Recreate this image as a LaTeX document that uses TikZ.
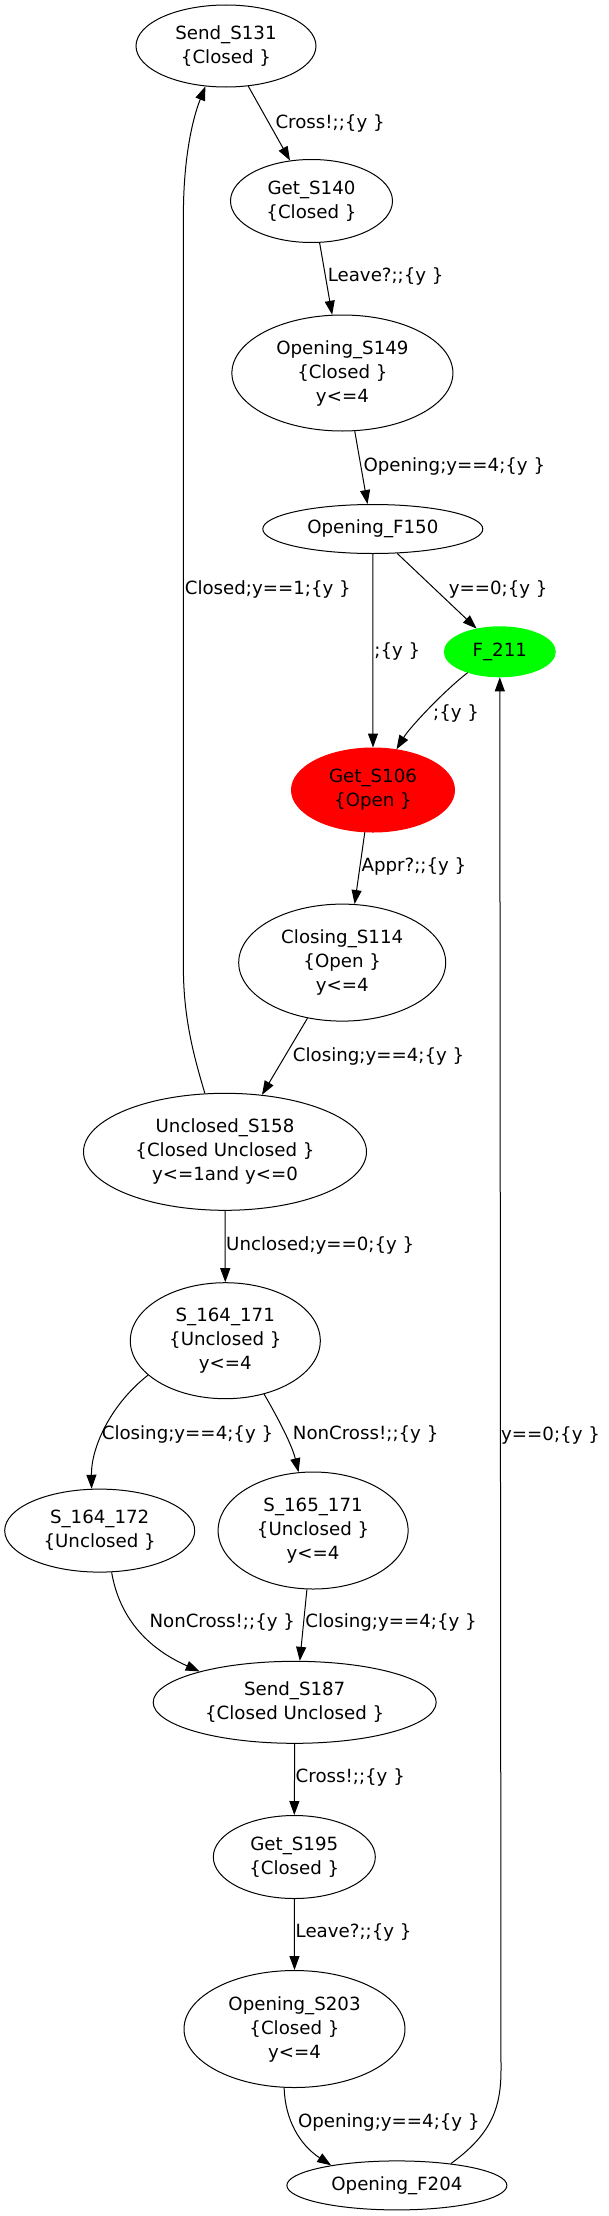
\documentclass[tikz,border=0pt]{standalone}
\usepackage{fontspec}
\setmainfont{DejaVu Sans}
\usetikzlibrary{shapes.geometric,arrows.meta}
\begin{document}
\begin{tikzpicture}[x=1pt,y=-1pt,
  st/.style={ellipse,draw,line width=1pt,inner sep=0pt,align=center,font=\fontsize{18.2}{24}\selectfont},
  el/.style={anchor=west,inner sep=0pt,font=\fontsize{18.2}{24}\selectfont},
  tr/.style={line width=1pt,-{Triangle[length=14pt,width=10pt]}},
]
\useasboundingbox (0,0) rectangle (608,2216);
% nodes
\node[st,minimum width=180pt,minimum height=82pt] (s131) at (226,46) {Send\_S131\\\{Closed \}};
\node[st,minimum width=162pt,minimum height=83pt] (s140) at (311.5,201) {Get\_S140\\\{Closed \}};
\node[st,minimum width=221pt,minimum height=116pt] (s149) at (342.4,373) {Opening\_S149\\\{Closed \}\\y<=4};
\node[st,minimum width=220pt,minimum height=49pt] (f150) at (372.8,529) {Opening\_F150};
\node[st,draw=green,fill=green,minimum width=111pt,minimum height=50pt] (f211) at (499.8,651.8) {F\_211};
\node[st,draw=red,fill=red,minimum width=163pt,minimum height=84pt] (s106) at (373,790) {Get\_S106\\\{Open \}};
\node[st,minimum width=207pt,minimum height=117pt] (s114) at (342.2,962.6) {Closing\_S114\\\{Open \}\\y<=4};
\node[st,minimum width=283pt,minimum height=117pt] (s158) at (225,1151.8) {Unclosed\_S158\\\{Closed Unclosed \}\\y<=1and y<=0};
\node[st,minimum width=190pt,minimum height=116pt] (s171) at (225.3,1340.7) {S\_164\_171\\\{Unclosed \}\\y<=4};
\node[st,minimum width=190pt,minimum height=83pt] (s172) at (99.7,1530.6) {S\_164\_172\\\{Unclosed \}};
\node[st,minimum width=190pt,minimum height=117pt] (s165) at (313.1,1530.5) {S\_165\_171\\\{Unclosed \}\\y<=4};
\node[st,minimum width=283pt,minimum height=82pt] (s187) at (294.7,1702.3) {Send\_S187\\\{Closed Unclosed \}};
\node[st,minimum width=162pt,minimum height=83pt] (s195) at (294.3,1857) {Get\_S195\\\{Closed \}};
\node[st,minimum width=221pt,minimum height=117pt] (s203) at (294.5,2029) {Opening\_S203\\\{Closed \}\\y<=4};
\node[st,minimum width=220pt,minimum height=49pt] (f204) at (396.9,2185.4) {Opening\_F204};
% edges
\draw[tr] (s131.299) -- (s140.118);
\draw[tr] (s140.281.3) -- (s149.100.6);
\draw[tr] (s149.282) -- (f150.102.9);
\draw[tr] (f150.south) -- (s106.north);
\draw[tr] (f150.315.6) -- (f211.135.4);
\draw[tr] (f211.213) .. controls (445,690) and (410,727) .. (s106.60);
\draw[tr] (s106.259.6) -- (s114.78.9);
\draw[tr] (s114.238.2) -- (s158.57.7);
\draw[tr] (s158.109) .. controls (195,1060) and (183.4,1020) .. (183.4,968) -- (183.4,215) .. controls (183.4,160) and (192,120) .. (s131.243);
\draw[tr] (s158.south) -- (s171.north);
\draw[tr] (s171.204.8) .. controls (110,1405) and (91.1,1448) .. (s172.101.7);
\draw[tr] (s171.306.4) .. controls (278,1418) and (292,1445) .. (s165.104);
\draw[tr] (s172.286.1) .. controls (118,1610) and (140,1645) .. (s187.162.1);
\draw[tr] (s165.264.1) -- (s187.83.8);
\draw[tr] (s187.south) -- (s195.north);
\draw[tr] (s195.south) -- (s203.north);
\draw[tr] (s203.260.8) .. controls (285,2120) and (300,2145) .. (f204.163.4);
\draw[tr] (f204.22.5) .. controls (490,2135) and (501,2110) .. (501,2070) -- (f211.south);
% edge labels
\node[el] (l1) at (275.3,123) {Cross!;;\{y \}};
\node[el] (l2) at (327.6,276.8) {Leave?;;\{y \}};
\node[el] (l3) at (363.3,466.8) {Opening;y==4;\{y \}};
\node[el] (l4) at (448.6,589.3) {y==0;\{y \}};
\node[el] (l5) at (184.6,589.3) {Closed;y==1;\{y \}};
\node[el] (l6) at (374.2,651.4) {;\{y \}};
\node[el] (l7) at (433,713.2) {;\{y \}};
\node[el] (l8) at (361.4,866.8) {Appr?;;\{y \}};
\node[el] (l9) at (292.7,1056) {Closing;y==4;\{y \}};
\node[el] (l10) at (226,1245) {Unclosed;y==0;\{y \}};
\node[el] (l11) at (101.6,1434.3) {Closing;y==4;\{y \}};
\node[el] (l12) at (292.7,1434.3) {NonCross!;;\{y \}};
\node[el] (l13) at (501,1435.4) {y==0;\{y \}};
\node[el] (l14) at (149.3,1622.9) {NonCross!;;\{y \}};
\node[el] (l15) at (305.2,1622.9) {Closing;y==4;\{y \}};
\node[el] (l16) at (295.5,1777.7) {Cross!;;\{y \}};
\node[el] (l17) at (295.5,1932.4) {Leave?;;\{y \}};
\node[el] (l18) at (297.8,2122.5) {Opening;y==4;\{y \}};
\end{tikzpicture}
\end{document}
